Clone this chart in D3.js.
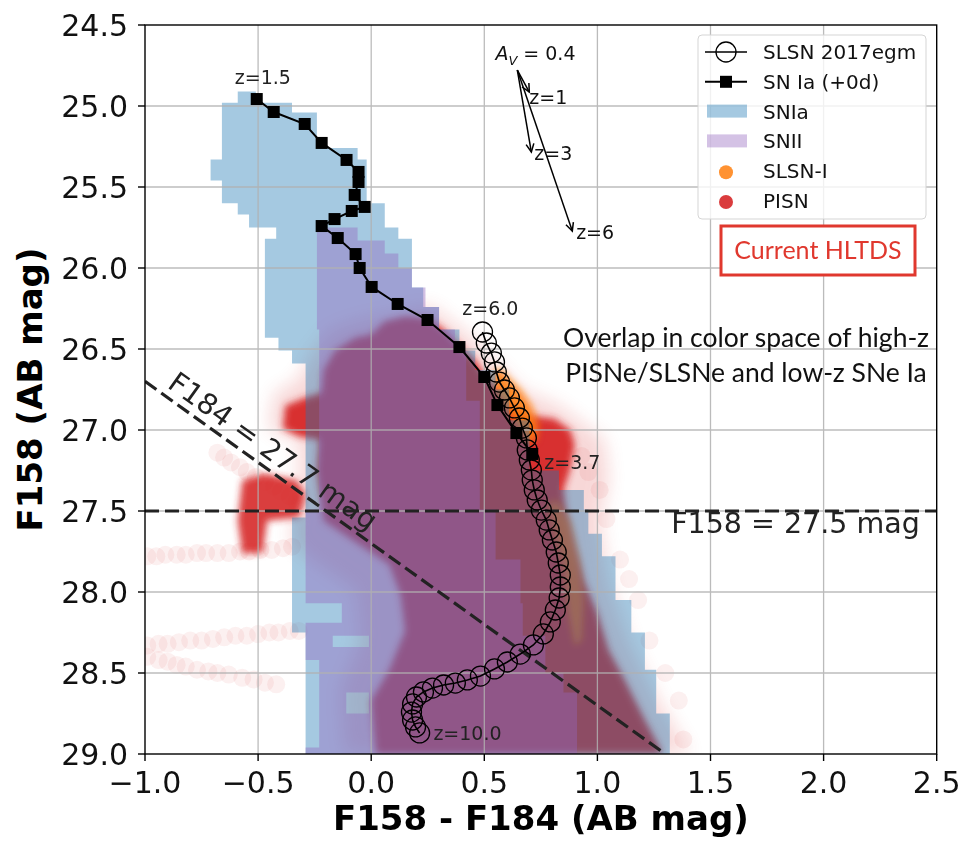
<!DOCTYPE html>
<html lang="en">
<head>
<meta charset="UTF-8">
<title>F158 vs F158 - F184</title>
<script src="https://d3js.org/d3.v7.min.js"></script>
<style>
    body { margin: 0; background: #fff; }
    svg { display: block; font-family: 'DejaVu Sans', sans-serif; }
</style>
</head>
<body>
<svg id="chart" width="966" height="842"></svg>
<script>
// ---- data (colour = F158 - F184, mag = F158) ----
const xTicks = [-1.0, -0.5, 0.0, 0.5, 1.0, 1.5, 2.0, 2.5];
const yTicks = [24.5, 25.0, 25.5, 26.0, 26.5, 27.0, 27.5, 28.0, 28.5, 29.0];

// SN Ia (+0d) track, z = 1.5 ... 3.7
const snIaColor = [-0.506, -0.431, -0.294, -0.219, -0.109, -0.056, -0.056, -0.073, -0.029, -0.086, -0.162, -0.219,
    -0.148, -0.069, -0.051, 0.002, 0.117, 0.249, 0.390, 0.500, 0.558, 0.642, 0.712];
const snIaMag = [24.957, 25.037, 25.111, 25.228, 25.333, 25.407, 25.469, 25.549, 25.623, 25.648, 25.698, 25.741,
    25.815, 25.914, 26.000, 26.117, 26.222, 26.321, 26.488, 26.673, 26.846, 27.019, 27.148];

// SLSN 2017egm track, z = 6.0 ... 10.0
const slsnColor = [0.492, 0.509, 0.531, 0.545, 0.553, 0.567, 0.589, 0.611, 0.633, 0.655, 0.668, 0.686, 0.690, 0.699,
    0.708, 0.712, 0.721, 0.734, 0.752, 0.774, 0.787, 0.801, 0.818, 0.827, 0.836, 0.836, 0.831, 0.814, 0.792, 0.761,
    0.717, 0.659, 0.602, 0.545, 0.483, 0.425, 0.372, 0.320, 0.271, 0.231, 0.200, 0.183, 0.178, 0.183, 0.196, 0.214];
const slsnMag = [26.395, 26.463, 26.525, 26.580, 26.642, 26.704, 26.753, 26.802, 26.864, 26.926, 26.988, 27.049,
    27.123, 27.185, 27.247, 27.309, 27.370, 27.432, 27.494, 27.556, 27.617, 27.679, 27.753, 27.821, 27.895, 27.969,
    28.037, 28.111, 28.185, 28.259, 28.327, 28.383, 28.432, 28.475, 28.519, 28.543, 28.562, 28.574, 28.593, 28.617,
    28.648, 28.691, 28.741, 28.790, 28.833, 28.870];

// SNIa 2D histogram rows: [mag top, mag bottom, colour left, colour right, ...]
const snIaHist = [
    [24.91, 24.98, -0.59, -0.51], [24.98, 25.04, -0.66, -0.35], [25.04, 25.26, -0.66, -0.24],
    [25.26, 25.33, -0.66, -0.06], [25.33, 25.46, -0.71, -0.02], [25.46, 25.60, -0.66, -0.02],
    [25.60, 25.67, -0.59, 0.06], [25.67, 25.75, -0.54, 0.06], [25.75, 25.82, -0.42, 0.12],
    [25.82, 26.12, -0.47, 0.18], [26.12, 26.24, -0.47, 0.23], [26.24, 26.38, -0.47, 0.30],
    [26.38, 26.43, -0.47, 0.39], [26.43, 26.51, -0.41, 0.39], [26.51, 26.59, -0.35, 0.46],
    [26.59, 26.63, -0.29, 0.46], [26.63, 26.75, -0.29, 0.55], [26.75, 26.94, -0.29, 0.61],
    [26.94, 27.25, -0.29, 0.70], [27.25, 27.37, -0.29, 0.83], [27.37, 27.49, -0.29, 0.94],
    [27.49, 27.54, -0.29, 0.96], [27.54, 27.64, -0.35, 0.96], [27.64, 27.78, -0.35, 1.02],
    [27.78, 28.05, -0.35, 1.08], [28.05, 28.25, -0.35, 1.15], [28.25, 28.48, -0.29, 1.21],
    [28.48, 28.75, -0.29, 1.26], [28.75, 29.00, -0.29, 1.32]
];

// SNII 2D histogram rows (extra pairs where a row is split)
const snIIHist = [
    [25.75, 25.83, -0.24, -0.06], [25.83, 25.91, -0.24, 0.06], [25.91, 26.00, -0.24, 0.12],
    [26.00, 26.12, -0.24, 0.18], [26.12, 26.24, -0.24, 0.24], [26.24, 26.38, -0.24, 0.30],
    [26.38, 26.51, -0.23, 0.37], [26.51, 26.82, -0.23, 0.42], [26.82, 27.49, -0.23, 0.48],
    [27.49, 27.80, -0.29, 0.55], [27.80, 28.07, -0.29, 0.66], [28.07, 28.19, -0.13, 0.67],
    [28.19, 28.27, -0.29, 0.67], [28.27, 28.34, -0.29, -0.17, -0.01, 0.77], [28.34, 28.42, -0.29, 0.77],
    [28.42, 28.50, -0.23, 0.77], [28.50, 28.62, -0.23, 0.85], [28.62, 28.75, -0.23, -0.11, -0.01, 0.91],
    [28.75, 28.96, -0.23, 0.91], [28.96, 29.00, -0.29, 0.91]
];

// PISN cloud outlines and faint model tracks
const pisnCore = [[0.00, 26.41], [0.06, 26.33], [0.15, 26.30], [0.25, 26.31], [0.32, 26.38], [0.39, 26.48],
    [0.46, 26.57], [0.51, 26.68], [0.57, 26.75], [0.63, 26.85], [0.70, 26.91], [0.81, 26.93], [0.88, 27.00],
    [0.90, 27.09], [0.88, 27.24], [0.85, 27.37], [0.86, 27.49], [0.90, 27.72], [0.94, 27.93], [1.00, 28.13],
    [1.05, 28.36], [1.12, 28.54], [1.21, 28.79], [1.29, 29.00], [0.02, 29.00], [0.00, 28.67], [0.08, 28.48],
    [0.15, 28.24], [0.13, 28.02], [0.08, 27.83], [-0.05, 27.71], [-0.21, 27.56], [-0.24, 27.25], [-0.23, 27.06],
    [-0.32, 27.04], [-0.39, 26.99], [-0.38, 26.85], [-0.29, 26.80], [-0.22, 26.77], [-0.21, 26.63],
    [-0.16, 26.51], [-0.07, 26.43]];
const pisnBlob = [[-0.57, 27.31], [-0.47, 27.27], [-0.33, 27.31], [-0.29, 27.40], [-0.32, 27.54], [-0.46, 27.56],
    [-0.48, 27.76], [-0.57, 27.76], [-0.59, 27.56]];
const pisnHalo = [[-0.05, 26.32], [0.26, 26.23], [0.43, 26.41], [0.66, 26.75], [0.83, 26.85], [1.03, 27.06],
    [1.05, 27.31], [1.01, 27.56], [1.05, 27.93], [1.14, 28.30], [1.27, 28.67], [1.41, 29.00], [-0.12, 29.00],
    [-0.14, 28.61], [-0.05, 28.30], [-0.07, 27.99], [-0.27, 27.80], [-0.36, 27.68], [-0.32, 27.43],
    [-0.32, 27.06], [-0.45, 27.00], [-0.43, 26.78], [-0.32, 26.69], [-0.27, 26.54], [-0.18, 26.38]];
const pisnTracks = [
    [[-0.68, 27.14], [-0.65, 27.17], [-0.62, 27.20], [-0.58, 27.23], [-0.55, 27.26], [-0.51, 27.29],
     [-0.47, 27.32], [-0.43, 27.35], [-0.40, 27.38], [-0.36, 27.41], [-0.33, 27.44]],
    [[-0.99, 27.78], [-0.95, 27.78], [-0.91, 27.77], [-0.86, 27.77], [-0.82, 27.77], [-0.77, 27.76],
     [-0.73, 27.76], [-0.68, 27.76], [-0.63, 27.76], [-0.58, 27.75], [-0.54, 27.75], [-0.49, 27.74],
     [-0.44, 27.74], [-0.39, 27.73], [-0.35, 27.72]],
    [[-0.99, 28.33], [-0.94, 28.32], [-0.90, 28.32], [-0.85, 28.31], [-0.80, 28.30], [-0.75, 28.30],
     [-0.70, 28.29], [-0.65, 28.28], [-0.60, 28.27], [-0.55, 28.27], [-0.50, 28.26], [-0.45, 28.25],
     [-0.41, 28.25], [-0.36, 28.24], [-0.32, 28.24]],
    [[-0.99, 28.40], [-0.94, 28.42], [-0.90, 28.43], [-0.86, 28.45], [-0.82, 28.46], [-0.77, 28.48],
     [-0.72, 28.49], [-0.68, 28.50], [-0.63, 28.51], [-0.57, 28.53], [-0.52, 28.54], [-0.47, 28.56],
     [-0.42, 28.57]],
    [[0.93, 27.16], [0.96, 27.26], [1.01, 27.37], [1.04, 27.55], [1.10, 27.80], [1.14, 27.92], [1.18, 28.05],
     [1.23, 28.30], [1.30, 28.50], [1.36, 28.67], [1.38, 28.91]]
];

// SLSN-I points, drawn as two patches
const slsnIUpper = [[0.54, 26.64], [0.57, 26.62], [0.61, 26.68], [0.66, 26.75], [0.71, 26.85], [0.74, 26.97],
    [0.73, 27.06], [0.69, 27.09], [0.66, 27.00], [0.61, 26.91], [0.57, 26.82], [0.54, 26.72]];
const slsnILower = [[0.78, 27.46], [0.82, 27.43], [0.88, 27.56], [0.92, 27.80], [0.94, 28.05], [0.93, 28.30],
    [0.90, 28.33], [0.87, 28.11], [0.85, 27.86], [0.81, 27.65]];

// reddening arrows A_V = 0.4
const avTail = [0.646, 24.778];
const avHeads = [[0.699, 24.914], [0.708, 25.284], [0.889, 25.772]];
const avLabels = ["z=1", "z=3", "z=6"];
const avLabelPos = [[0.699, 24.988], [0.721, 25.333], [0.906, 25.821]];

// redshift labels
const zLabels = ["z=1.5", "z=6.0", "z=3.7", "z=10.0"];
const zLabelPos = [[-0.603, 24.864], [0.403, 26.290], [0.765, 27.241], [0.275, 28.914]];

const limitF158 = 27.5;
const limitF184 = 27.7;

const legendNames = ["SLSN 2017egm", "SN Ia (+0d)", "SNIa", "SNII", "SLSN-I", "PISN"];

// ---- chart ----
const svg = d3.select("#chart");
const x = d3.scaleLinear().domain([-1.0, 2.5]).range([145, 936.7]);
const y = d3.scaleLinear().domain([24.5, 29.0]).range([25, 754]);
const [x0, x1] = x.range(), [y0, y1] = y.range();

const blue = "#1f77b4", purple = "#9467bd", red = "#d62728", orange = "#ff7f0e";

svg.append("rect").attr("width", 966).attr("height", 842).attr("fill", "#fff");

const defs = svg.append("defs");
defs.append("clipPath").attr("id", "plot").append("rect")
    .attr("x", x0).attr("y", y0).attr("width", x1 - x0).attr("height", y1 - y0);
defs.append("filter").attr("id", "soft").attr("x", "-20%").attr("y", "-20%").attr("width", "140%").attr("height", "140%")
    .append("feGaussianBlur").attr("stdDeviation", 3.5);
defs.append("filter").attr("id", "softer").attr("x", "-20%").attr("y", "-20%").attr("width", "140%").attr("height", "140%")
    .append("feGaussianBlur").attr("stdDeviation", 9);

const back = svg.append("g").attr("clip-path", "url(#plot)");
const area = d3.line().x(d => x(d[0])).y(d => y(d[1])).curve(d3.curveLinearClosed);

// PISN (scatter drawn first, histograms sit on top of it)
back.append("path").attr("d", area(pisnHalo)).attr("fill", red).attr("opacity", 0.18).attr("filter", "url(#softer)");
pisnTracks.forEach(track => {
    back.append("g").selectAll("circle").data(track).join("circle")
        .attr("cx", d => x(d[0])).attr("cy", d => y(d[1])).attr("r", 9)
        .attr("fill", red).attr("opacity", 0.07);
});
const pisnG = back.append("g").attr("filter", "url(#soft)");
pisnG.append("path").attr("d", area(pisnCore)).attr("fill", red).attr("opacity", 0.95);
pisnG.append("path").attr("d", area(pisnBlob)).attr("fill", red).attr("opacity", 0.9);

const slsnIG = back.append("g").attr("filter", "url(#soft)");
slsnIG.append("path").attr("d", area(slsnIUpper)).attr("fill", orange).attr("opacity", 0.85);
slsnIG.append("path").attr("d", area(slsnILower)).attr("fill", orange).attr("opacity", 0.6);

// 2D histograms, one path per class so the cells don't seam
function histPath(rows) {
    let d = "";
    rows.forEach(r => {
        for (let i = 2; i < r.length; i += 2) {
            d += `M${x(r[i])},${y(r[0])}H${x(r[i + 1])}V${y(r[1])}H${x(r[i])}Z`;
        }
    });
    return d;
}
back.append("path").attr("d", histPath(snIaHist)).attr("fill", blue).attr("fill-opacity", 0.4);
back.append("path").attr("d", histPath(snIIHist)).attr("fill", purple).attr("fill-opacity", 0.4);

// grid
const grid = svg.append("g").attr("stroke", "#b0b0b0").attr("stroke-width", 1.3).attr("opacity", 0.85);
grid.selectAll(".gx").data(xTicks.slice(1, -1)).join("line")
    .attr("x1", d => x(d)).attr("x2", d => x(d)).attr("y1", y0).attr("y2", y1);
grid.selectAll(".gy").data(yTicks.slice(1, -1)).join("line")
    .attr("y1", d => y(d)).attr("y2", d => y(d)).attr("x1", x0).attr("x2", x1);

const front = svg.append("g").attr("clip-path", "url(#plot)");

// survey limits
front.append("line")
    .attr("x1", x0).attr("x2", x1).attr("y1", y(limitF158)).attr("y2", y(limitF158))
    .attr("stroke", "#222").attr("stroke-width", 3.2).attr("stroke-dasharray", "14,6");
front.append("line")
    .attr("x1", x(-1.0)).attr("y1", y(limitF184 - 1.0))
    .attr("x2", x(1.3)).attr("y2", y(limitF184 + 1.3))
    .attr("stroke", "#222").attr("stroke-width", 3.2).attr("stroke-dasharray", "14,6");

// tracks
const track = d3.line().x(d => x(d[0])).y(d => y(d[1]));
const snIa = snIaColor.map((c, i) => [c, snIaMag[i]]);
const slsn = slsnColor.map((c, i) => [c, slsnMag[i]]);

front.append("path").attr("d", track(slsn)).attr("fill", "none").attr("stroke", "#000").attr("stroke-width", 1.6);
front.append("g").selectAll("circle").data(slsn).join("circle")
    .attr("cx", d => x(d[0])).attr("cy", d => y(d[1])).attr("r", 10)
    .attr("fill", "none").attr("stroke", "#000").attr("stroke-width", 1.3);

front.append("path").attr("d", track(snIa)).attr("fill", "none").attr("stroke", "#000").attr("stroke-width", 2);
front.append("g").selectAll("rect").data(snIa).join("rect")
    .attr("x", d => x(d[0]) - 6).attr("y", d => y(d[1]) - 6).attr("width", 12).attr("height", 12)
    .attr("fill", "#000");

// redshift labels
svg.append("g").selectAll("text").data(zLabels).join("text")
    .attr("x", (d, i) => x(zLabelPos[i][0])).attr("y", (d, i) => y(zLabelPos[i][1]))
    .attr("font-size", 19).attr("fill", "#222").text(d => d);

// A_V arrows
const arrows = svg.append("g").attr("stroke", "#000").attr("stroke-width", 1.5).attr("fill", "none");
avHeads.forEach(h => {
    const tx = x(avTail[0]), ty = y(avTail[1]), hx = x(h[0]), hy = y(h[1]);
    const a = Math.atan2(hy - ty, hx - tx), L = 9, w = 0.45;
    arrows.append("line").attr("x1", tx).attr("y1", ty).attr("x2", hx).attr("y2", hy);
    arrows.append("path").attr("d",
        `M${hx - L * Math.cos(a - w)},${hy - L * Math.sin(a - w)}L${hx},${hy}L${hx - L * Math.cos(a + w)},${hy - L * Math.sin(a + w)}`);
});
svg.append("g").selectAll("text").data(avLabels).join("text")
    .attr("x", (d, i) => x(avLabelPos[i][0])).attr("y", (d, i) => y(avLabelPos[i][1]))
    .attr("font-size", 19).attr("fill", "#111").text(d => d);
const av = svg.append("text").attr("x", x(0.549)).attr("y", y(24.716)).attr("font-size", 19).attr("fill", "#111");
av.append("tspan").attr("font-style", "italic").text("A");
av.append("tspan").attr("font-style", "italic").attr("font-size", 13).attr("dy", 5).text("V");
av.append("tspan").attr("dy", -5).text(" = 0.4");

// limit labels
svg.append("text").attr("x", x(1.326)).attr("y", y(27.636)).attr("font-size", 28.5).attr("fill", "#222")
    .text("F158 = 27.5 mag");
{
    const c = -0.48, px = x(c), py = y(limitF184 + c);
    const ang = Math.atan2(y(limitF184 + 1) - y(limitF184), x(0) - x(-1));
    const off = 8;
    svg.append("text")
        .attr("transform", `translate(${px + off * Math.sin(ang)},${py - off * Math.cos(ang)}) rotate(${ang * 180 / Math.PI})`)
        .attr("text-anchor", "middle").attr("font-size", 28.5).attr("fill", "#222")
        .text("F184 = 27.7 mag");
}

// overlap note
const note = svg.append("text").attr("font-family", "Lato, sans-serif").attr("font-size", 26.5)
    .attr("fill", "#111").attr("text-anchor", "middle");
note.append("tspan").attr("x", 746).attr("y", 347).text("Overlap in color space of high-z");
note.append("tspan").attr("x", 746).attr("y", 382).text("PISNe/SLSNe and low-z SNe Ia");

// axes box + ticks
svg.append("rect").attr("x", x0).attr("y", y0).attr("width", x1 - x0).attr("height", y1 - y0)
    .attr("fill", "none").attr("stroke", "#000").attr("stroke-width", 1.4);
const fmt = d3.format(".1f");
const xAxis = svg.append("g");
xAxis.selectAll("line").data(xTicks).join("line")
    .attr("x1", d => x(d)).attr("x2", d => x(d)).attr("y1", y1).attr("y2", y1 + 7)
    .attr("stroke", "#000").attr("stroke-width", 1.4);
xAxis.selectAll("text").data(xTicks).join("text")
    .attr("x", d => x(d)).attr("y", 793).attr("text-anchor", "middle")
    .attr("font-size", 30).attr("fill", "#111").text(d => fmt(d));
const yAxis = svg.append("g");
yAxis.selectAll("line").data(yTicks).join("line")
    .attr("y1", d => y(d)).attr("y2", d => y(d)).attr("x1", x0 - 7).attr("x2", x0)
    .attr("stroke", "#000").attr("stroke-width", 1.4);
yAxis.selectAll("text").data(yTicks).join("text")
    .attr("x", 128).attr("y", d => y(d) + 11).attr("text-anchor", "end")
    .attr("font-size", 30).attr("fill", "#111").text(d => fmt(d));

svg.append("text").attr("x", (x0 + x1) / 2).attr("y", 830).attr("text-anchor", "middle")
    .attr("font-size", 34).attr("font-weight", "bold").text("F158 - F184 (AB mag)");
svg.append("text").attr("transform", `translate(42,${(y0 + y1) / 2}) rotate(-90)`).attr("text-anchor", "middle")
    .attr("font-size", 34).attr("font-weight", "bold").text("F158 (AB mag)");

// legend
const lg = svg.append("g");
lg.append("rect").attr("x", 698).attr("y", 35).attr("width", 228).attr("height", 184).attr("rx", 4)
    .attr("fill", "#fff").attr("fill-opacity", 0.8).attr("stroke", "#d5d5d5");
const rowY = i => 52 + i * 29.8;
const sx = 726;
lg.append("line").attr("x1", 705).attr("x2", 747).attr("y1", rowY(0)).attr("y2", rowY(0)).attr("stroke", "#000").attr("stroke-width", 1.6);
lg.append("circle").attr("cx", sx).attr("cy", rowY(0)).attr("r", 10).attr("fill", "none").attr("stroke", "#000").attr("stroke-width", 1.3);
lg.append("line").attr("x1", 705).attr("x2", 747).attr("y1", rowY(1)).attr("y2", rowY(1)).attr("stroke", "#000").attr("stroke-width", 2);
lg.append("rect").attr("x", sx - 6).attr("y", rowY(1) - 6).attr("width", 12).attr("height", 12).attr("fill", "#000");
lg.append("rect").attr("x", 707).attr("y", rowY(2) - 7).attr("width", 40).attr("height", 13).attr("fill", blue).attr("fill-opacity", 0.4);
lg.append("rect").attr("x", 707).attr("y", rowY(3) - 7).attr("width", 40).attr("height", 13).attr("fill", purple).attr("fill-opacity", 0.4);
lg.append("circle").attr("cx", sx).attr("cy", rowY(4) + 1).attr("r", 7).attr("fill", orange).attr("opacity", 0.85);
lg.append("circle").attr("cx", sx).attr("cy", rowY(5) + 1).attr("r", 7).attr("fill", red).attr("opacity", 0.9);
lg.selectAll(".lt").data(legendNames).join("text")
    .attr("x", 763).attr("y", (d, i) => rowY(i) + 7).attr("font-size", 20).attr("fill", "#111").text(d => d);

// survey tag
svg.append("rect").attr("x", 721).attr("y", 226).attr("width", 194).attr("height", 49)
    .attr("fill", "#fff").attr("stroke", "#e0382e").attr("stroke-width", 3);
svg.append("text").attr("x", 818).attr("y", 259).attr("text-anchor", "middle")
    .attr("font-family", "Lato, sans-serif").attr("font-size", 25).attr("fill", "#e0382e").text("Current HLTDS");
</script>
</body>
</html>
